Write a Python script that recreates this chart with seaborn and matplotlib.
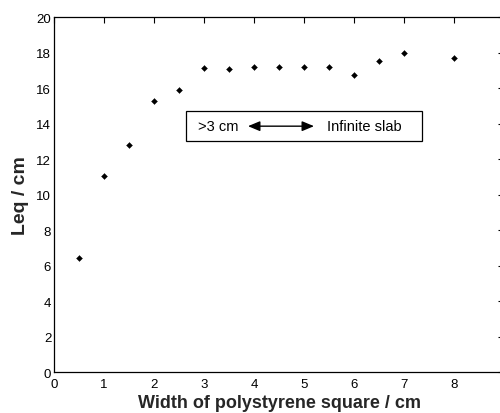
import matplotlib
matplotlib.use("Agg")
import matplotlib.pyplot as plt
from matplotlib.patches import Rectangle
import seaborn as sns
import pandas as pd

width_cm = [0.5, 1.0, 1.5, 2.0, 2.5, 3.0, 3.5, 4.0, 4.5, 5.0, 5.5, 6.0, 6.5, 7.0, 8.0]
leq_cm = [6.45, 11.05, 12.8, 15.25, 15.9, 17.15, 17.05, 17.2, 17.2, 17.2, 17.2, 16.75, 17.5, 17.95, 17.7]
x_ticks = list(range(0, 10))
y_ticks = list(range(0, 21, 2))

sns.set_theme(style="white")
plt.rcParams['font.family'] = ['Liberation Sans', 'DejaVu Sans']

df = pd.DataFrame({"w": width_cm, "leq": leq_cm})

fig = plt.figure(figsize=(5.0, 4.14), dpi=100)
ax = fig.add_axes([0.108, 0.099, 0.9, 0.8575])
sns.scatterplot(data=df, x="w", y="leq", ax=ax, marker="D", s=9, color="black",
                edgecolor="black", linewidth=0.3, legend=False)

ax.set_xlim(0, 9)
ax.set_ylim(0, 20)
ax.set_xticks(x_ticks)
ax.set_yticks(y_ticks)
ax.tick_params(direction="in", length=4, width=0.8, top=True, right=True,
               labelsize=9.5, pad=2, colors="black")
ax.tick_params(axis="x", pad=4)
for s in ax.spines.values():
    s.set_color("black")
    s.set_linewidth(0.9)
    s.set_visible(True)

ax.set_xlabel("Width of polystyrene square / cm", fontsize=13, fontweight="bold", labelpad=3)
ax.set_ylabel("Leq / cm", fontsize=14, fontweight="bold", labelpad=5)

# annotation box
ax.add_patch(Rectangle((2.63, 13.0), 4.72, 1.7, facecolor="white", edgecolor="black",
                       linewidth=0.9, zorder=3))
ax.text(2.88, 13.85, ">3 cm", ha="left", va="center", fontsize=10.5, color="black", zorder=4)
ax.annotate("", xy=(5.2, 13.85), xytext=(3.88, 13.85),
            arrowprops=dict(arrowstyle="<|-|>,head_length=0.6,head_width=0.25",
                            color="black", lw=1.0, shrinkA=0, shrinkB=0), zorder=4)
ax.text(5.46, 13.85, "Infinite slab", ha="left", va="center", fontsize=10.5,
        color="black", zorder=4)

fig.savefig("out.png", dpi=100)
